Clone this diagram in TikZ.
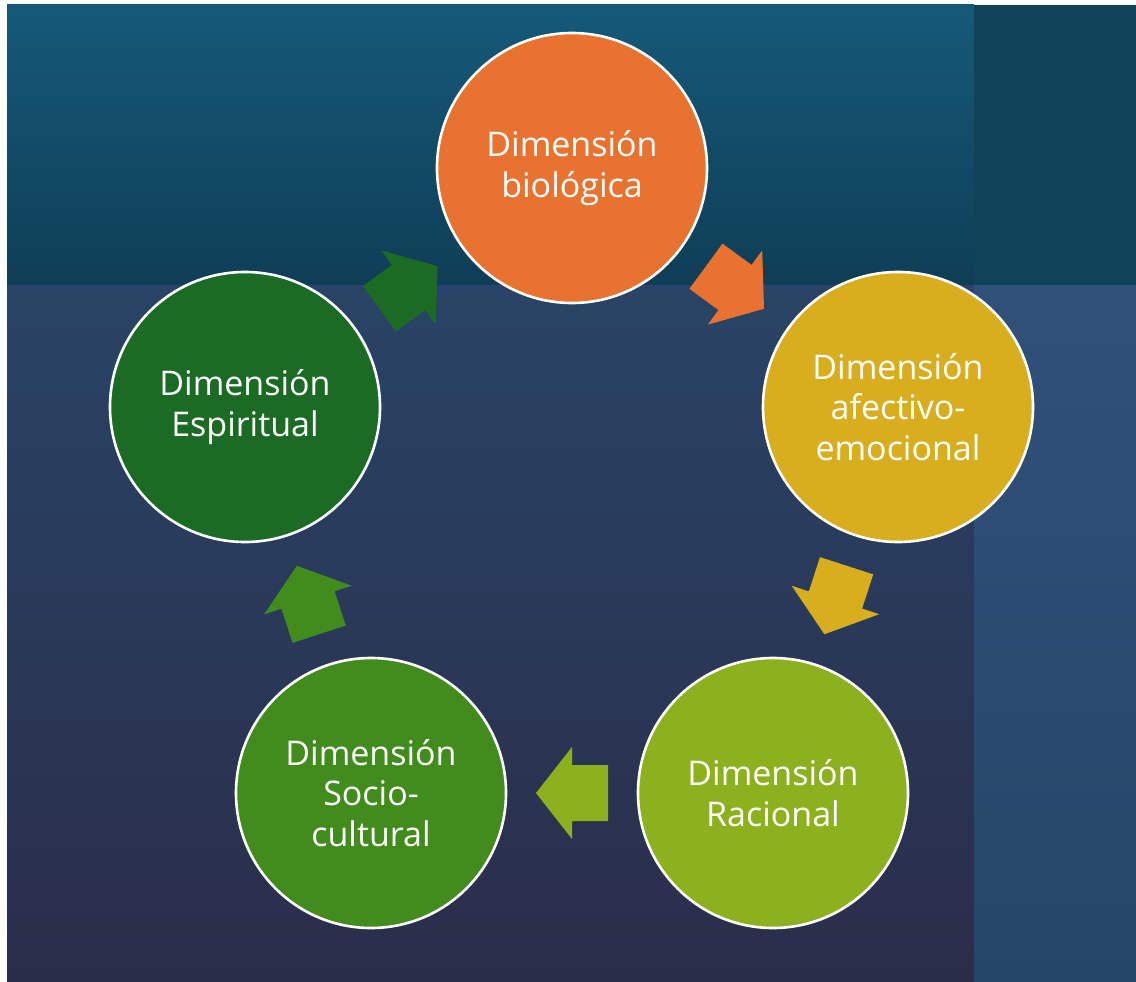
\documentclass[tikz,border=0pt]{standalone}
\usepackage{fontspec}
\setmainfont{Open Sans}
\usetikzlibrary{calc}

\definecolor{cOrange}{HTML}{E8722F}
\definecolor{cYellow}{HTML}{D8AE1F}
\definecolor{cLime}{HTML}{8DB01F}
\definecolor{cGreen}{HTML}{418C1D}
\definecolor{cDark}{HTML}{1C6B24}
\definecolor{bandTop}{HTML}{155979}
\definecolor{bandBot}{HTML}{0F3E56}
\definecolor{lowTop}{HTML}{294466}
\definecolor{lowBot}{HTML}{2A2D4A}
\definecolor{sideTop}{HTML}{10435A}
\definecolor{sideLowTop}{HTML}{31507A}
\definecolor{sideLowBot}{HTML}{244768}

\tikzset{
  dim/.style={circle, minimum size=270pt, inner sep=0pt, draw=white,
    line width=2.6pt, text=white, align=center,
    font=\fontsize{34}{40.5}\selectfont},
}

\begin{document}
\begin{tikzpicture}[x=1pt, y=-1pt]
\useasboundingbox (0,0) rectangle (1136,982);
% background panels
\fill[white] (0,0) rectangle (1136,982);
\shade[top color=bandTop, bottom color=bandBot] (7,5) rectangle (974,285);
\shade[top color=lowTop, bottom color=lowBot] (7,285) rectangle (974,982);
\fill[sideTop] (974,5) rectangle (1136,285);
\shade[top color=sideLowTop, bottom color=sideLowBot] (974,285) rectangle (1136,982);

% the five dimensions
\node[dim, fill=cOrange] (bio) at (572,168) {Dimensión\\biológica};
\node[dim, fill=cYellow] (afe) at (898,407) {Dimensión\\afectivo-\\emocional};
\node[dim, fill=cLime]   (rac) at (773,793) {Dimensión\\Racional};
\node[dim, fill=cGreen]  (soc) at (371,793) {Dimensión\\Socio-\\cultural};
\node[dim, fill=cDark]   (esp) at (245,407) {Dimensión\\Espiritual};

% block arrows half way between neighbouring circles
\foreach \a/\b/\c in {bio/afe/cOrange, afe/rac/cYellow, rac/soc/cLime,
                      soc/esp/cGreen, esp/bio/cDark} {
  \coordinate (M) at ($(\a.center)!0.5!(\b.center)$);
  \coordinate (B) at ($(M)!36pt!180:(\b.center)$);
  \fill[\c]
    ($(M)!36pt!(\b.center)$) --
    ($(M)!46pt!90:(\b.center)$) --
    ($(M)!28pt!90:(\b.center)$) --
    ($(B)!28pt!90:(M)$) --
    ($(B)!28pt!-90:(M)$) --
    ($(M)!28pt!-90:(\b.center)$) --
    ($(M)!46pt!-90:(\b.center)$) -- cycle;
}
\end{tikzpicture}
\end{document}
